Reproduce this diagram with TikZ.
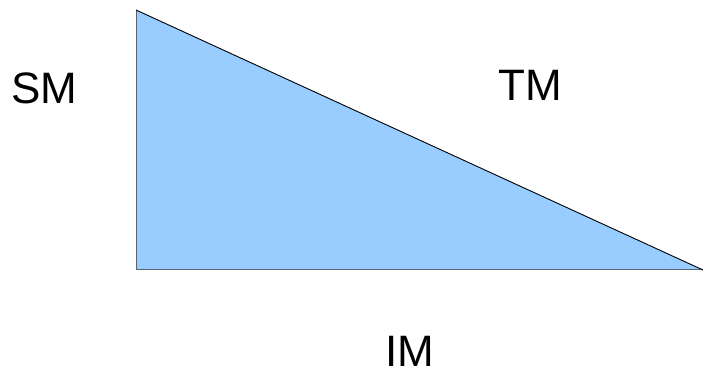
\documentclass[tikz,border=0pt]{standalone}
\usepackage{fontspec}
\setmainfont{Liberation Sans}
\definecolor{triblue}{HTML}{99CCFF}
\definecolor{edgegray}{HTML}{5A6470}
\begin{document}
\begin{tikzpicture}[x=1pt,y=-1pt,
  lbl/.style={inner sep=0pt,anchor=base,font=\fontsize{44}{44}\selectfont}]
\useasboundingbox (0,0) rectangle (704,371);
\coordinate (top) at (136,10);
\coordinate (corner) at (136,270);
\coordinate (right) at (703,270);
\fill[triblue] (top) -- (corner) -- (right) -- cycle;
\draw[line width=1pt,edgegray] (top) -- (corner) -- (right);
\draw[line width=0.9pt,black] (top) -- (right);
\node[lbl] (sm) at (44.5,104) {SM};
\node[lbl] (tm) at (530,101) {TM};
\node[lbl] (im) at (409.5,366) {IM};
\end{tikzpicture}
\end{document}
